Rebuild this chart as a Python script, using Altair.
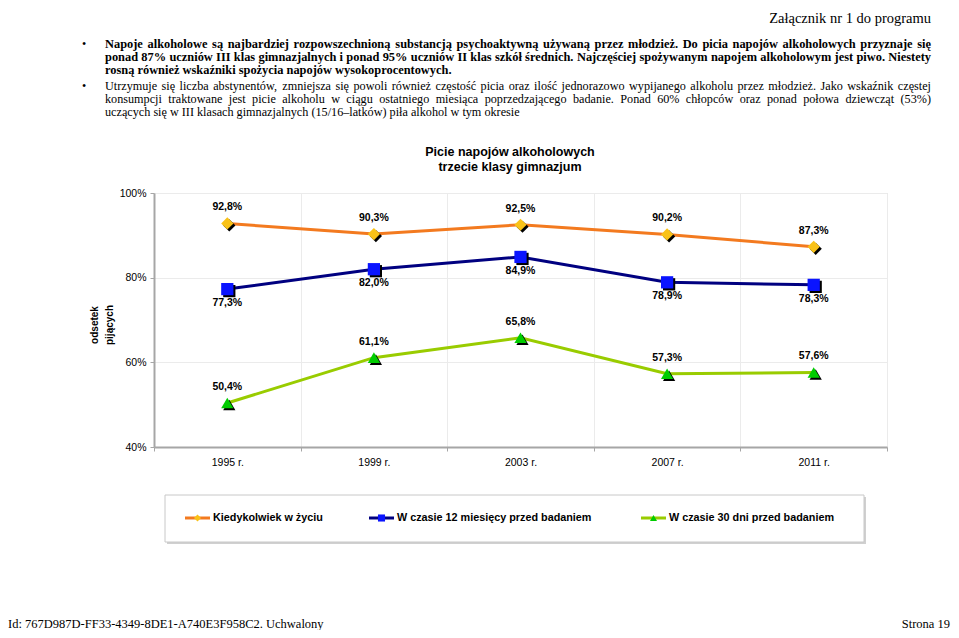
import altair as alt
import pandas as pd

# ---------------- data ----------------
years = ["1995 r.", "1999 r.", "2003 r.", "2007 r.", "2011 r."]
series_names = ["Kiedykolwiek w życiu",
                "W czasie 12 miesięcy przed badaniem",
                "W czasie 30 dni przed badaniem"]
ever = [92.8, 90.3, 92.5, 90.2, 87.3]
last12 = [77.3, 82.0, 84.9, 78.9, 78.3]
last30 = [50.4, 61.1, 65.8, 57.3, 57.6]
y_ticks = [40, 60, 80, 100]

title_lines = ["Picie napojów alkoholowych", "trzecie klasy gimnazjum"]
y_title_lines = ["odsetek", "pijących"]
header_text = "Załącznik nr 1 do programu"
bold_lines = [
    "Napoje alkoholowe są najbardziej rozpowszechnioną substancją psychoaktywną używaną przez młodzież. Do picia napojów alkoholowych przyznaje się",
    "ponad 87% uczniów III klas gimnazjalnych i ponad 95% uczniów II klas szkół średnich. Najczęściej spożywanym napojem alkoholowym jest piwo. Niestety",
    "rosną również wskaźniki spożycia napojów wysokoprocentowych.",
]
normal_lines = [
    "Utrzymuje się liczba abstynentów, zmniejsza się powoli również częstość picia oraz ilość jednorazowo wypijanego alkoholu przez młodzież. Jako wskaźnik częstej",
    "konsumpcji traktowane jest picie alkoholu w ciągu ostatniego miesiąca poprzedzającego badanie. Ponad 60% chłopców oraz ponad połowa dziewcząt (53%)",
    "uczących się w III klasach gimnazjalnych (15/16–latków) piła alkohol w tym okresie",
]
footer_left = "Id: 767D987D-FF33-4349-8DE1-A740E3F958C2. Uchwalony"
footer_right = "Strona 19"

# ---------------- styles ----------------
line_colors = ["#F37A1F", "#000080", "#99CC00"]
marker_colors = ["#F9C218", "#0A14FF", "#00CC00"]
shapes = ["diamond", "square", "triangle-up"]
label_dy = [-16, 14, -16]
SANS = "Liberation Sans"
SERIF = "Liberation Serif"

rows = []
for name, vals in zip(series_names, [ever, last12, last30]):
    for yr, v in zip(years, vals):
        rows.append({"year": yr, "series": name, "value": v,
                     "label": f"{v:.1f}".replace(".", ",") + "%"})
df = pd.DataFrame(rows)

color_scale = alt.Scale(domain=series_names, range=line_colors)
fill_scale = alt.Scale(domain=series_names, range=marker_colors)
shape_scale = alt.Scale(domain=series_names, range=shapes)

x_enc = alt.X("year:N", sort=years, bandPosition=0.5,
              scale=alt.Scale(type="band", domain=years, paddingInner=0, paddingOuter=0),
              axis=alt.Axis(title=None, tickBand="extent", grid=True, gridColor="#ebebeb",
                            domainColor="#a6a6a6", domainWidth=2, tickColor="#a6a6a6",
                            tickSize=4, labelFont=SANS, labelFontSize=10.5, labelPadding=6,
                            labelColor="black", labelAngle=0))
y_enc = alt.Y("value:Q", scale=alt.Scale(domain=[40, 100], nice=False, zero=False),
              axis=alt.Axis(title=None, values=y_ticks, labelExpr="datum.value + '%'",
                            grid=True, gridColor="#ebebeb", domainColor="#a6a6a6",
                            domainWidth=2, tickColor="#a6a6a6", tickSize=4,
                            labelFont=SANS, labelFontSize=10.5, labelPadding=4,
                            labelColor="black"))

base = alt.Chart(df)
lines = base.mark_line(strokeWidth=3).encode(
    x=x_enc, y=y_enc,
    color=alt.Color("series:N", scale=color_scale, legend=None),
    detail="series:N")
shadow = base.mark_point(filled=True, opacity=1, size=150, xOffset=2, yOffset=2).encode(
    x=x_enc, y=y_enc,
    shape=alt.Shape("series:N", scale=shape_scale, legend=None),
    fill=alt.value("black"))
points = base.mark_point(filled=True, opacity=1, size=150).encode(
    x=x_enc, y=y_enc,
    shape=alt.Shape("series:N", scale=shape_scale, legend=None),
    fill=alt.Fill("series:N", scale=fill_scale, legend=None))

labels = []
for name, dy in zip(series_names, label_dy):
    labels.append(
        base.transform_filter(alt.datum.series == name)
        .mark_text(font=SANS, fontSize=10.5, fontWeight="bold", dy=dy, color="black")
        .encode(x=x_enc, y=y_enc, text="label:N"))

# ---------------- annotations (page layout, plot origin at page x=154, y=193) ----------------
one = pd.DataFrame({"k": [0]})
ann = []


def txt(text, x, y, **kw):
    return alt.Chart(one).mark_text(text=text, **kw).encode(x=alt.value(x), y=alt.value(y))


TX0, TX1 = -49, 777  # text column (page x 105 .. 931)

# approximate Times (Liberation Serif) advance widths, 1/1000 em
_reg = dict(zip("abcdefghijklmnopqrstuvwxyz",
                [444, 500, 444, 500, 444, 333, 500, 500, 278, 278, 500, 278, 778,
                 500, 500, 500, 500, 333, 389, 278, 500, 500, 722, 500, 500, 444]))
_reg.update(dict(zip("ABCDEFGHIJKLMNOPQRSTUVWXYZ",
                     [722, 667, 667, 722, 611, 556, 722, 722, 333, 389, 722, 611, 889,
                      722, 722, 556, 722, 667, 556, 611, 722, 722, 944, 722, 722, 611])))
_bold = dict(zip("abcdefghijklmnopqrstuvwxyz",
                 [500, 556, 444, 556, 444, 333, 500, 556, 278, 333, 556, 278, 833,
                  556, 500, 556, 556, 444, 389, 333, 556, 500, 722, 500, 500, 444]))
_bold.update(dict(zip("ABCDEFGHIJKLMNOPQRSTUVWXYZ",
                      [722, 667, 722, 722, 667, 611, 778, 778, 389, 500, 778, 667, 944,
                       722, 778, 611, 778, 722, 556, 667, 722, 722, 1000, 722, 722, 667])))
_base_map = str.maketrans("ąćęłńóśźżĄĆĘŁŃÓŚŹŻ", "acelnoszzACELNOSZZ")


def text_width(s, size, bold):
    table = _bold if bold else _reg
    w = 0
    for ch in s.translate(_base_map):
        if ch in table:
            w += table[ch]
        elif ch.isdigit():
            w += 500
        elif ch == "%":
            w += 1000 if bold else 833
        elif ch in "()":
            w += 333
        elif ch in ".,":
            w += 250
        elif ch in "/:;":
            w += 278 if ch == "/" else 333
        elif ch == " ":
            w += 250
        else:
            w += 500
    return w * size / 1000.0


def justified(line, y, bold, **kw):
    words = line.split(" ")
    size = kw["fontSize"]
    widths = [text_width(w, size, bold) for w in words]
    W = TX1 - TX0
    gap = (W - sum(widths)) / (len(words) - 1)
    out = []
    x = TX0
    for w, wd in zip(words, widths):
        out.append(txt(w, x, y, align="left", **kw))
        x += wd + gap
    # last word anchored to the right edge
    out[-1] = txt(words[-1], TX1, y, align="right", **kw)
    return out


# chart title
for i, t in enumerate(title_lines):
    ann.append(txt(t, 356, -41 + 15 * i, font=SANS, fontSize=12.5, fontWeight="bold",
                   align="center", baseline="middle", color="black"))
# y axis title
for i, t in enumerate(y_title_lines):
    ann.append(txt(t, -59 + 15 * i, 132, font=SANS, fontSize=10, fontWeight="bold",
                   angle=270, align="center", baseline="middle", color="black"))
# header
ann.append(txt(header_text, 777, -181, font=SERIF, fontSize=14.5, align="right",
               baseline="top", color="black"))
# paragraphs
para_y = [-149, -136, -123, -107, -94, -81]
bold_kw = dict(font=SERIF, fontSize=12.4, fontWeight="bold", baseline="middle", color="black")
norm_kw = dict(font=SERIF, fontSize=12.2, baseline="middle", color="black")
for i, t in enumerate(bold_lines):
    if i < len(bold_lines) - 1:
        ann.extend(justified(t, para_y[i], True, **bold_kw))
    else:
        ann.append(txt(t, TX0, para_y[i], align="left", **bold_kw))
for i, t in enumerate(normal_lines):
    if i < len(normal_lines) - 1:
        ann.extend(justified(t, para_y[3 + i], False, **norm_kw))
    else:
        ann.append(txt(t, TX0, para_y[3 + i], align="left", **norm_kw))
for yb in [para_y[0], para_y[3]]:
    ann.append(txt("•", -70, yb, font=SERIF, fontSize=12, align="center",
                   baseline="middle", color="black"))
# footer
ann.append(txt(footer_left, -146, 435, font=SERIF, fontSize=12.5, align="left",
               baseline="alphabetic", color="black"))
ann.append(txt(footer_right, 796, 435, font=SERIF, fontSize=12.5, align="right",
               baseline="alphabetic", color="black"))

# legend box
box_shadow = alt.Chart(one).mark_rect(fill="#d0d0d0").encode(
    x=alt.value(13), x2=alt.value(712), y=alt.value(304), y2=alt.value(351))
box = alt.Chart(one).mark_rect(fill="white", stroke="#c8c8c8", strokeWidth=1).encode(
    x=alt.value(11), x2=alt.value(710), y=alt.value(302), y2=alt.value(349))
legend_layers = [box_shadow, box]
legend_left = [31, 215, 487]
for name, lx in zip(series_names, legend_left):
    d = pd.DataFrame({"series": [name]})
    legend_layers.append(alt.Chart(d).mark_rule(strokeWidth=3).encode(
        x=alt.value(lx), x2=alt.value(lx + 25), y=alt.value(325),
        color=alt.Color("series:N", scale=color_scale, legend=None)))
    legend_layers.append(alt.Chart(d).mark_point(filled=True, opacity=1, size=50).encode(
        x=alt.value(lx + 12.5), y=alt.value(325),
        shape=alt.Shape("series:N", scale=shape_scale, legend=None),
        fill=alt.Fill("series:N", scale=fill_scale, legend=None)))
    legend_layers.append(alt.Chart(d).mark_text(font=SANS, fontSize=10.8, fontWeight="bold",
                                                align="left", baseline="middle", color="black").encode(
        x=alt.value(lx + 28), y=alt.value(325), text="series:N"))

chart = alt.layer(lines, shadow, points, *labels, *ann, *legend_layers).properties(
    width=733, height=254,
    autosize=alt.AutoSizeParams(type="none"),
    padding={"left": 146, "top": 185, "right": 64, "bottom": 183},
).configure_view(stroke="#a6a6a6", strokeWidth=2).configure(background="white")

chart.save("out.html", embed_options={"renderer": "svg", "actions": False})
